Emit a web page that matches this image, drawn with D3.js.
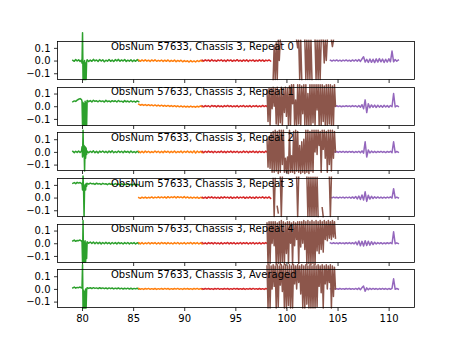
<!DOCTYPE html>
<html>
<head>
<meta charset="utf-8">
<script src="https://cdn.jsdelivr.net/npm/d3@7"></script>
<style>
  body { margin: 0; background: #fff; }
  svg { display: block; }
  text { font-family: "DejaVu Sans", sans-serif; }
</style>
</head>
<body>
<svg id="chart" width="461" height="346"></svg>
<script>
// ---- data ------------------------------------------------------------
const panelTitles = [
  "ObsNum 57633, Chassis 3, Repeat 0",
  "ObsNum 57633, Chassis 3, Repeat 1",
  "ObsNum 57633, Chassis 3, Repeat 2",
  "ObsNum 57633, Chassis 3, Repeat 3",
  "ObsNum 57633, Chassis 3, Repeat 4",
  "ObsNum 57633, Chassis 3, Averaged"
];
const xTickValues = [80, 85, 90, 95, 100, 105, 110];
const yTickValues = [-0.1, 0.0, 0.1];
const xDomain = [77.61, 112.57];
const yDomain = [-0.15, 0.15];

// frequency span covered by each band (channels are evenly spaced inside it)
const greenPreX   = [79.1, 79.95];
const greenSpikeX = [80.0, 80.45];
const greenPostX  = [80.5, 85.55];
const orangeX     = [85.55, 91.75];
const redX        = [91.75, 98.45];
const brownX      = [98.1, 104.8];
const purpleX     = [104.3, 110.95];

// one row per repeat (last row: averaged spectrum)
const greenPre = [
  [.002,-.006,.008,-.004,.006,-.008,.004],
  [.035,.042,.038,.048,.055,.06,.052],
  [.004,-.006,.005,-.004,.007,-.005,.006],
  [.112,.118,.11,.12,.114,.119,.11],
  [.018,.025,.015,.022,.02,.026,.016],
  [.008,.014,.006,.012,.01,.015,.007]
];
const greenSpike = [
  [-.02,.22,-.15,-.01,-.15,0,-.15,-.02,-.15,-.01],
  [.04,-.15,.03,-.15,.02,-.15,.04,-.15,.03,-.15],
  [.04,-.04,.17,-.03,.05,-.15,.04,-.05,.03,-.02],
  [.11,.06,.17,.07,-.15,.08,.1,.06,.11,.09],
  [.02,-.15,.18,-.15,.01,-.15,.02,-.15,0,-.12],
  [.01,.19,-.15,-.01,-.15,-.02,-.15,0,-.15,-.01]
];
const greenPost = [
  [.006,-.008,.004,-.006,.009,-.003,.005,-.007,.008,-.004,.006,-.009,.003,-.005,.008,-.006,.004,-.008,.007,-.003,.009,-.006,.005,-.004,.008,-.007,.003,-.005,.006,-.008,.004,-.006,.007,-.004],
  [.046,.036,.044,.034,.047,.038,.043,.035,.045,.037,.042,.033,.046,.036,.041,.034,.044,.037,.043,.033,.045,.036,.04,.032,.044,.035,.041,.033,.043,.034,.04,.032,.042,.035],
  [.006,-.007,.005,-.004,.008,-.006,.004,-.008,.006,-.003,.007,-.005,.004,-.007,.006,-.004,.008,-.006,.003,-.005,.007,-.004,.005,-.007,.006,-.003,.004,-.006,.007,-.005,.003,-.006,.005,-.004],
  [.112,.106,.114,.108,.111,.104,.113,.107,.11,.103,.112,.106,.109,.102,.111,.105,.108,.101,.11,.104,.107,.1,.109,.103,.106,.1,.108,.102,.105,.099,.107,.101,.104,.1],
  [.012,0,.01,-.002,.009,-.004,.008,-.003,.007,-.005,.006,-.004,.007,-.003,.005,-.006,.006,-.004,.005,-.005,.006,-.003,.004,-.006,.005,-.004,.006,-.005,.004,-.003,.005,-.006,.004,-.004],
  [.01,.004,.009,.003,.01,.004,.008,.002,.009,.003,.008,.002,.007,.001,.008,.002,.007,0,.006,.001,.007,0,.006,-.001,.005,0,.006,-.001,.005,-.002,.004,0,.005,-.001]
];
const orange = [
  [.004,-.006,.005,-.004,.006,-.005,.003,-.007,.005,-.004,.006,-.006,.002,-.005,.004,-.007,.003,-.006,.005,-.008,.002,-.006,.004,-.009,.001,-.007,.003,-.01,0,-.008,-.002,-.012,0,-.01,-.003,-.011,0,-.008,.002,-.006],
  [.016,.008,.014,.006,.013,.005,.012,.004,.011,.003,.01,.002,.009,.001,.008,0,.007,-.001,.006,-.002,.005,-.003,.004,-.004,.003,-.005,.002,-.006,.001,-.006,0,-.007,.001,-.006,-.001,-.008,0,-.006,.002,-.005],
  [.005,-.006,.004,-.007,.006,-.004,.005,-.006,.003,-.005,.007,-.004,.005,-.007,.004,-.006,.006,-.003,.005,-.006,.004,-.005,.007,-.006,.003,-.004,.006,-.007,.005,-.004,.006,-.005,.004,-.007,.008,-.009,.006,-.005,.004,-.006],
  [0,-.006,.003,-.004,.004,-.005,.002,-.003,.005,-.004,.004,-.002,.006,-.003,.005,-.002,.006,-.004,.007,-.002,.006,-.001,.008,-.003,.007,-.001,.006,-.002,.008,-.003,.005,-.004,.004,-.005,.003,-.004,.004,-.006,.002,-.004],
  [.004,-.005,.005,-.006,.003,-.004,.006,-.005,.004,-.003,.005,-.006,.004,-.005,.006,-.003,.004,-.005,.005,-.004,.003,-.006,.005,-.004,.006,-.005,.003,-.004,.005,-.006,.004,-.003,.006,-.005,.004,-.004,.005,-.006,.003,-.005],
  [.003,-.003,.002,-.004,.003,-.002,.004,-.003,.002,-.003,.003,-.004,.002,-.002,.003,-.003,.004,-.002,.003,-.004,.002,-.003,.003,-.002,.004,-.003,.002,-.004,.003,-.002,.003,-.003,.002,-.004,.003,-.002,.004,-.003,.002,-.003]
];
const red = [
  [.004,-.005,.006,-.003,.005,-.006,.007,-.004,.003,-.006,.005,-.002,.006,-.005,.004,-.007,.006,-.003,.005,-.006,.004,-.004,.007,-.005,.003,-.006,.005,-.004,.006,-.007,.004,-.003,.005,-.006,.003,-.005,.006,-.004,.005,-.006,.004,-.003,.005,-.004],
  [.003,-.005,.005,-.003,.004,-.006,.006,-.002,.004,-.005,.005,-.004,.003,-.006,.005,-.003,.006,-.004,.004,-.005,.003,-.004,.005,-.006,.004,-.003,.006,-.005,.003,-.004,.005,-.006,.004,-.003,.005,-.005,.003,-.004,.006,-.003,.004,-.005,.005,-.004],
  [.004,-.006,.005,-.004,.006,-.003,.004,-.006,.005,-.005,.003,-.004,.006,-.005,.004,-.006,.005,-.003,.006,-.005,.004,-.004,.005,-.006,.003,-.005,.006,-.004,.005,-.006,.004,-.003,.006,-.005,.004,-.006,.005,-.004,.003,-.005,.006,-.004,.005,-.003],
  [.003,-.005,.004,-.006,.005,-.003,.006,-.004,.004,-.005,.003,-.006,.005,-.004,.006,-.003,.004,-.005,.005,-.006,.003,-.004,.006,-.005,.004,-.003,.005,-.006,.004,-.004,.006,-.005,.003,-.006,.005,-.004,.004,-.003,.006,-.005,.004,-.004,.005,-.006],
  [.005,-.004,.003,-.006,.005,-.003,.004,-.005,.006,-.004,.003,-.005,.005,-.006,.004,-.003,.006,-.005,.004,-.004,.005,-.006,.003,-.004,.006,-.005,.004,-.003,.005,-.006,.004,-.004,.006,-.005,.003,-.004,.005,-.006,.004,-.003,.005,-.004,.006,-.005],
  [.002,-.003,.003,-.002,.003,-.003,.002,-.004,.003,-.002,.004,-.003,.002,-.003,.003,-.002,.003,-.004,.002,-.003,.004,-.002,.003,-.003,.002,-.003,.003,-.004,.002,-.002,.003,-.003,.004,-.002,.002,-.003,.003,-.003,.002,-.004,.003,-.002,.003,-.003]
];
// null = channel flagged / no data
const brown = [
  [null,null,null,null,null,null,-.15,.12,-.15,.14,-.15,.16,0,.16,null,null,null,null,null,null,null,null,null,null,null,null,null,null,null,.16,.1,.16,-.15,.16,-.15,null,null,.16,-.15,.16,-.15,.16,-.15,.16,-.15,null,null,.16,-.15,.16,-.15,.16,-.15,.16,null,.16,-.02,.16,0,.16,null,null,null,.16,.11,.16,null,null],
  [.13,-.12,.14,-.15,.14,-.02,.15,0,.14,-.14,.15,-.15,.13,-.13,.15,-.15,.14,-.05,.15,-.08,.14,-.15,.16,-.15,.17,.02,.17,-.15,.05,-.15,.17,-.14,.17,-.15,.16,-.06,.17,-.15,.17,-.15,.1,-.15,.17,-.15,.17,-.13,.17,-.15,.17,-.03,.17,-.15,.17,-.15,.17,-.12,.16,-.15,.17,-.15,.17,-.14,.17,-.15,.16,-.15,.17,0],
  [.1,-.12,.12,-.13,.15,-.16,.16,-.16,.17,-.15,.16,-.17,.17,-.16,.17,-.1,.17,-.16,-.05,-.16,-.04,-.17,.17,-.16,-.03,-.16,.16,-.17,.17,-.15,.16,-.16,.05,-.17,.08,-.16,.1,-.17,.17,-.16,.17,-.17,.16,-.15,.17,-.16,.17,0,.17,-.02,.17,.05,.16,-.16,.17,.02,.17,-.05,.16,-.16,.17,-.1,.17,-.15,.17,-.05,.16,0],
  [null,null,null,null,null,null,.15,-.15,.15,null,-.07,-.12,null,.16,-.15,.16,null,null,null,null,null,null,null,null,null,null,null,null,null,.16,-.15,.16,null,null,null,null,null,null,null,.16,-.15,.16,-.15,.16,-.15,.16,-.15,.16,-.15,.16,-.15,null,null,null,-.08,-.15,null,null,null,null,null,.16,-.15,.16,null,null,null,null],
  [.16,-.17,.17,-.16,.17,0,.17,-.02,.17,-.17,.16,-.16,.17,-.17,.18,-.15,.17,-.17,.16,-.08,.17,-.16,.17,0,.16,-.17,.17,-.02,.16,.03,.17,-.16,.17,-.03,.17,0,.18,-.05,.17,-.17,.18,-.16,.17,-.17,.18,-.16,.17,-.17,.18,-.06,.17,-.08,.18,-.05,.17,-.07,.18,.03,.17,.02,.18,.04,.17,.03,.18,.05,.17,.04],
  [.18,-.15,.19,-.15,.18,0,.19,.02,.18,-.15,.19,-.14,.18,.03,.19,-.02,.18,-.15,.19,-.15,.18,-.13,.19,-.15,.18,-.15,.19,.04,.18,0,.19,.05,.18,-.04,.19,-.15,.18,-.15,.19,-.12,.18,-.15,.19,-.15,.18,-.15,.19,-.15,.18,-.14,.19,.02,.18,-.03,.19,-.15,.18,.04,.19,0,.18,.05,.19,-.15,.18,-.06,.17,0]
];
const purple = [
  [.003,-.004,.004,-.003,.005,-.004,.003,-.005,.004,-.003,.005,-.004,.003,-.006,.005,-.004,.006,-.005,.008,-.007,.012,.03,-.012,.01,-.015,.012,-.014,.01,-.016,.013,-.012,.015,-.01,.012,-.015,.01,-.012,.014,-.01,.075,-.01,.008,-.005,.004],
  [.002,-.003,.003,-.002,.004,-.003,.003,-.004,.002,-.003,.004,-.002,.003,-.004,.005,-.003,.004,-.006,.006,-.008,.012,-.02,.05,-.05,.02,-.012,.01,-.008,.009,-.01,.008,-.007,.006,-.008,.007,-.006,.005,-.007,.006,-.004,.1,-.006,.004,-.003],
  [.003,-.004,.004,-.003,.003,-.004,.004,-.003,.005,-.004,.003,-.004,.004,-.003,.004,-.005,.003,-.004,.005,-.006,.008,-.01,.08,-.04,.015,-.008,.006,-.005,.004,-.005,.004,-.003,.005,-.004,.003,-.005,.004,-.003,.005,-.006,.08,-.005,.004,-.003],
  [.003,-.003,.004,-.002,.003,-.004,.003,-.003,.004,-.004,.003,-.003,.004,-.005,.005,-.006,.008,-.01,.012,-.015,.02,-.02,.045,-.03,.018,-.012,.01,-.008,.006,-.005,.005,-.004,.004,-.005,.003,-.004,.004,-.003,.005,-.004,.07,-.004,.003,-.003],
  [.003,-.003,.004,-.003,.003,-.004,.004,-.003,.003,-.004,.004,-.003,.005,-.004,.004,-.005,.01,-.012,.018,-.02,.015,-.022,.02,-.018,.016,-.015,.012,-.01,.008,-.006,.005,-.004,.004,-.005,.003,-.004,.004,-.003,.005,-.004,.09,-.004,.003,-.003],
  [.002,-.002,.003,-.002,.002,-.003,.003,-.002,.002,-.003,.003,-.002,.003,-.003,.002,-.003,.004,-.004,.006,-.006,.01,.022,-.018,.008,-.006,.005,-.004,.004,-.003,.003,-.004,.003,-.003,.004,-.003,.003,-.004,.003,-.003,.004,.08,-.003,.003,-.002]
];

// ---- layout ----------------------------------------------------------
const W = 461, H = 346;
const plotLeft = 57.6, plotRight = 414.9;
const figTop = 41.52, figBottom = 307.94, hspace = 0.2;
const nPanels = panelTitles.length;
const panelH = (figBottom - figTop) / (nPanels + (nPanels - 1) * hspace);
const snap = v => Math.round(v - 0.5) + 0.5;

const colors = {
  green: "#2ca02c", orange: "#ff7f0e", red: "#d62728",
  brown: "#8c564b", purple: "#9467bd"
};

const svg = d3.select("#chart");
svg.append("rect").attr("width", W).attr("height", H).attr("fill", "#fff");

const x = d3.scaleLinear().domain(xDomain).range([plotLeft, plotRight]);

// place evenly spaced channels across a frequency span
function spread(span, vals) {
  const n = vals.length;
  return vals.map((v, k) => ({ x: span[0] + k * (span[1] - span[0]) / (n - 1), y: v }));
}

const fmt = d3.format(".1f");

panelTitles.forEach((title, i) => {
  const top = figTop + i * panelH * (1 + hspace);
  const bottom = top + panelH;
  const y = d3.scaleLinear().domain(yDomain).range([bottom, top]);
  const g = svg.append("g");

  const line = d3.line()
    .defined(d => d.y !== null)
    .x(d => x(d.x))
    .y(d => y(d.y));

  const series = [
    { pts: [...spread(greenPreX, greenPre[i]), ...spread(greenSpikeX, greenSpike[i]), ...spread(greenPostX, greenPost[i])], c: colors.green },
    { pts: spread(orangeX, orange[i]), c: colors.orange },
    { pts: spread(redX, red[i]), c: colors.red },
    { pts: spread(purpleX, purple[i]), c: colors.purple },
    { pts: spread(brownX, brown[i]), c: colors.brown }
  ];

  series.forEach(s => {
    g.append("path")
      .attr("d", line(s.pts))
      .attr("fill", "none")
      .attr("stroke", s.c)
      .attr("stroke-width", 1.5)
      .attr("stroke-linejoin", "round")
      .attr("stroke-linecap", "square");
  });

  const x0 = snap(plotLeft), x1 = snap(plotRight);
  const y0 = snap(top), y1 = snap(bottom);

  // frame
  g.append("rect")
    .attr("x", x0).attr("y", y0)
    .attr("width", x1 - x0).attr("height", y1 - y0)
    .attr("fill", "none").attr("stroke", "#000").attr("stroke-width", 0.8);

  // y axis
  const ya = g.append("g")
    .attr("transform", `translate(${x0},0)`)
    .call(d3.axisLeft(y).tickValues(yTickValues).tickSize(3.5).tickPadding(3.5).tickFormat(fmt));
  ya.select(".domain").remove();

  // x axis (labels only on the bottom panel)
  const last = i === nPanels - 1;
  const xa = g.append("g")
    .attr("transform", `translate(0,${y1})`)
    .call(d3.axisBottom(x).tickValues(xTickValues).tickSize(3.5).tickPadding(3.5)
      .tickFormat(last ? d3.format("d") : () => ""));
  xa.select(".domain").remove();

  [ya, xa].forEach(a => {
    a.selectAll(".tick line").attr("stroke", "#000").attr("stroke-width", 0.8);
    a.selectAll(".tick text")
      .attr("fill", "#000")
      .style("font-family", '"DejaVu Sans", sans-serif')
      .style("font-size", "10px");
  });

  // panel label
  g.append("text")
    .attr("x", 111)
    .attr("y", top + 8)
    .attr("fill", "#000")
    .style("font-size", "10px")
    .text(title);
});
</script>
</body>
</html>
